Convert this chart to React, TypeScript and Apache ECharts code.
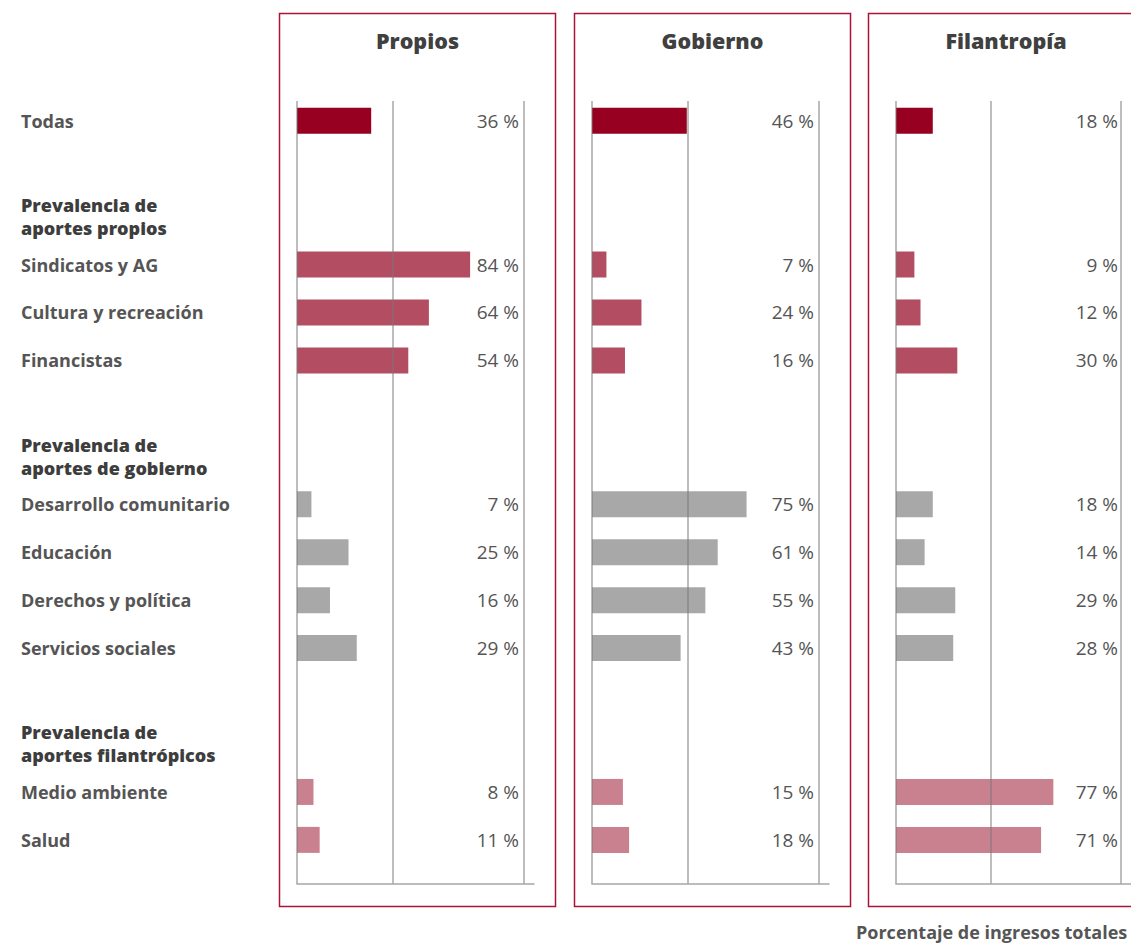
import React, { useEffect, useRef } from "react";
import * as echarts from "echarts";

// ---- Data ----
const rows: string[] = [
  "Todas",
  "",
  "Prevalencia de\naportes propios",
  "Sindicatos y AG",
  "Cultura y recreación",
  "Financistas",
  "",
  "Prevalencia de\naportes de gobierno",
  "Desarrollo comunitario",
  "Educación",
  "Derechos y política",
  "Servicios sociales",
  "",
  "Prevalencia de\naportes filantrópicos",
  "Medio ambiente",
  "Salud",
];
const headerRows: number[] = [2, 7, 13];
const rowGroup: (string | null)[] = [
  "todas", null, null,
  "propios", "propios", "propios", null, null,
  "gobierno", "gobierno", "gobierno", "gobierno", null, null,
  "filantropia", "filantropia",
];
const panelTitles: string[] = ["Propios", "Gobierno", "Filantropía"];
const propios: (number | null)[] = [36, null, null, 84, 64, 54, null, null, 7, 25, 16, 29, null, null, 8, 11];
const gobierno: (number | null)[] = [46, null, null, 7, 24, 16, null, null, 75, 61, 55, 43, null, null, 15, 18];
const filantropia: (number | null)[] = [18, null, null, 9, 12, 30, null, null, 18, 14, 29, 28, null, null, 77, 71];
const footerText = "Porcentaje de ingresos totales";

// ---- Styles ----
const groupColors: Record<string, string> = {
  todas: "#970020",
  propios: "#b34d62",
  gobierno: "#a8a8a8",
  filantropia: "#c98190",
};
const FONT = "'Open Sans', 'Noto Sans', sans-serif";
const panelLefts = [297, 592, 896];
const frameRects = [
  [279.5, 13.5, 276, 893],
  [574.5, 13.5, 276, 893],
  [868.5, 13.5, 290, 893],
];
const gridTop = 101;
const gridHeight = 783;
const gridWidth = 237;

export default function App() {
  const ref = useRef<HTMLDivElement>(null);
  useEffect(() => {
    if (!ref.current) return;
    const chart = echarts.init(ref.current, undefined, { renderer: "svg" });
    const panelData = [propios, gobierno, filantropia];
    const labelValues = rows
      .map((_, i) => i)
      .filter((i) => rows[i] !== "");

    const grids = panelLefts.map((l) => ({
      left: l,
      top: gridTop,
      width: gridWidth,
      height: gridHeight,
      containLabel: false,
    }));

    const xAxes = panelLefts.map((_, p) => ({
      type: "value",
      gridIndex: p,
      position: "bottom",
      min: 0,
      max: 115,
      z: 5,
      axisLine: { show: true, onZero: false, lineStyle: { color: "#a6a6a6", width: 1.5 } },
      axisTick: { show: false, customValues: [0, 46.5, 110] },
      axisLabel: { show: false, customValues: [0, 46.5, 110] },
      splitLine: {
        show: true,
        lineStyle: { color: "rgba(120,120,120,0.65)", width: 1.5 },
      },
    }));

    const yAxes = panelLefts.map((_, p) => ({
      type: "value",
      gridIndex: p,
      inverse: true,
      min: -0.41,
      max: 15.92,
      axisLine: { show: false, onZero: false },
      axisTick: { show: false },
      splitLine: { show: false },
      axisLabel:
        p === 0
          ? {
              show: true,
              customValues: labelValues,
              align: "left",
              margin: 276,
              formatter: (v: number) => {
                const i = Math.round(v);
                const t = rows[i] || "";
                return headerRows.includes(i) ? `{h|${t}}` : `{r|${t}}`;
              },
              rich: {
                r: {
                  fontFamily: FONT,
                  fontSize: 18,
                  fontWeight: 700,
                  color: "#555555",
                },
                h: {
                  fontFamily: FONT,
                  fontSize: 18,
                  fontWeight: 800,
                  color: "#3d3d3d",
                  lineHeight: 23,
                },
              },
            }
          : { show: false },
    }));

    const series = panelData.map((vals, p) => ({
      type: "custom",
      xAxisIndex: p,
      yAxisIndex: p,
      z: 2,
      data: vals
        .map((v, i) =>
          v === null
            ? null
            : { value: [v, i], itemStyle: { color: groupColors[rowGroup[i] as string] } }
        )
        .filter((d) => d !== null),
      renderItem: (params: any, api: any) => {
        const v = api.value(0);
        const idx = api.value(1);
        const s = api.coord([0, idx]);
        const e = api.coord([v, idx]);
        const h = 26;
        const cs = params.coordSys;
        return {
          type: "group",
          children: [
            {
              type: "rect",
              shape: { x: s[0], y: s[1] - h / 2, width: e[0] - s[0], height: h },
              style: { fill: api.visual("color") },
            },
            {
              type: "text",
              style: {
                text: `${v} %`,
                x: cs.x + 222,
                y: s[1],
                align: "right",
                verticalAlign: "middle",
                fill: "#555555",
                fontSize: 19,
                fontFamily: FONT,
              },
            },
          ],
        };
      },
    }));

    const graphic: any[] = [];
    frameRects.forEach((r) => {
      graphic.push({
        type: "rect",
        shape: { x: r[0], y: r[1], width: r[2], height: r[3] },
        style: { fill: "none", stroke: "#a8143a", lineWidth: 1.5 },
        silent: true,
        z: -1,
      });
    });
    panelTitles.forEach((t, p) => {
      const r = frameRects[p];
      graphic.push({
        type: "text",
        x: p === 2 ? 1006 : r[0] + r[2] / 2,
        y: 40,
        style: {
          text: t,
          align: "center",
          verticalAlign: "middle",
          fontFamily: FONT,
          fontSize: 21.5,
          fontWeight: 800,
          fill: "#404040",
        },
      });
    });
    graphic.push({
      type: "text",
      x: 856,
      y: 932,
      style: {
        text: footerText,
        align: "left",
        verticalAlign: "middle",
        fontFamily: FONT,
        fontSize: 18,
        fontWeight: 700,
        fill: "#555555",
      },
    });

    chart.setOption({
      animation: false,
      backgroundColor: "#ffffff",
      grid: grids,
      xAxis: xAxes,
      yAxis: yAxes,
      series,
      graphic,
    });
    return () => chart.dispose();
  }, []);
  return (
    <div
      ref={ref}
      style={{ position: "fixed", left: 0, top: 0, width: 1131, height: 945 }}
    />
  );
}
